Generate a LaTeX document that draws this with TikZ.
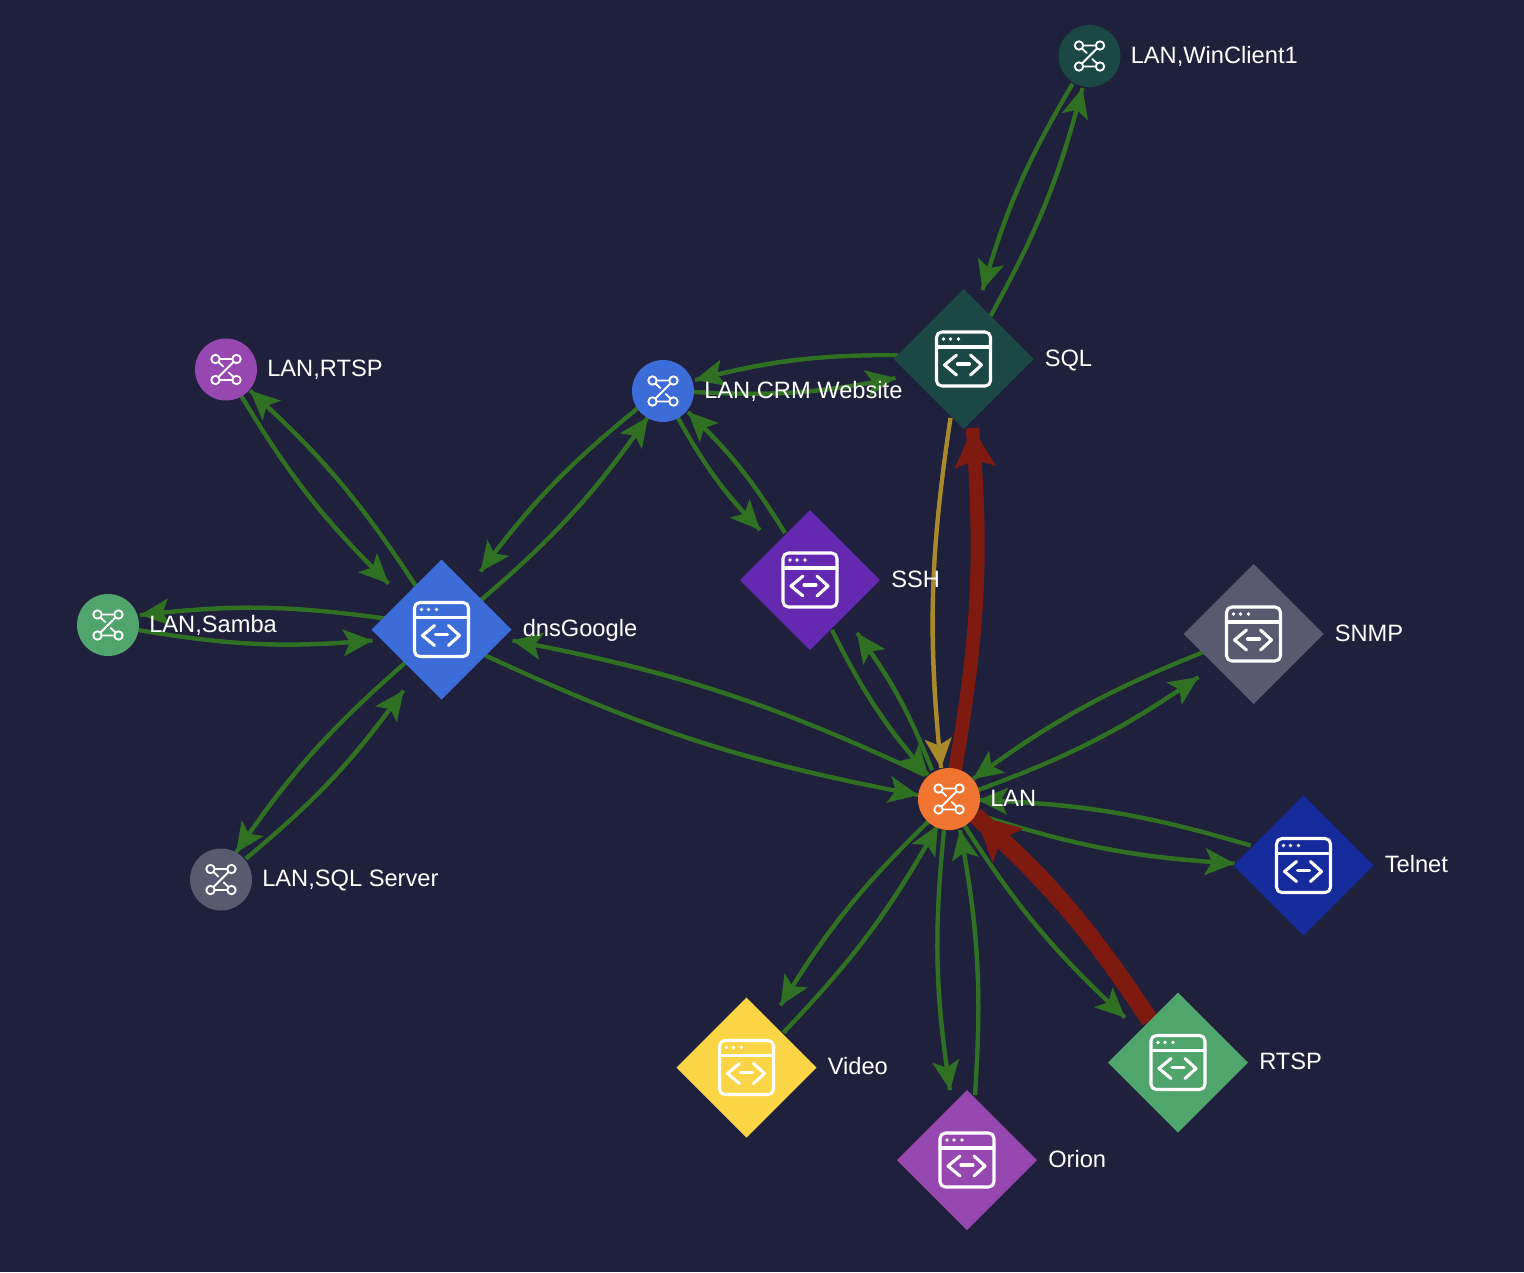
\documentclass[tikz,border=0pt]{standalone}
\usepackage{fontspec}
\setmainfont{Liberation Sans}
\usetikzlibrary{arrows.meta,calc,shapes.geometric}
\pgfdeclarelayer{edges}
\pgfsetlayers{edges,main}
\definecolor{bgc}{HTML}{1F213C}
\definecolor{flowgreen}{HTML}{307023}
\definecolor{flowgold}{HTML}{A88A2A}
\definecolor{flowred}{HTML}{7F1A10}
\definecolor{cteal}{HTML}{1B4745}
\definecolor{cblue}{HTML}{3C6CD8}
\definecolor{cpurple}{HTML}{6528B0}
\definecolor{cgrey}{HTML}{59596F}
\definecolor{cnavy}{HTML}{152A9B}
\definecolor{cgreen}{HTML}{50A56C}
\definecolor{corchid}{HTML}{9747B0}
\definecolor{cyellow}{HTML}{FBD545}
\definecolor{corange}{HTML}{F07530}
\tikzset{
  x=0.75pt,y=-0.75pt,
  hubnode/.style={circle,fill=#1,minimum size=46.5pt,inner sep=0pt,outer sep=0pt},
  appnode/.style={diamond,fill=#1,minimum width=105pt,minimum height=105pt,inner sep=0pt,outer sep=0pt,aspect=1},
  lbl/.style={anchor=base west,text=white,font=\fontsize{17.75pt}{22pt}\selectfont,inner sep=0pt},
  flow/.style={draw=flowgreen,line width=3pt,postaction={draw,-{Stealth[length=22pt,width=20pt,inset=5pt]}}},
  flowy/.style={draw=flowgold,line width=3pt,postaction={draw,-{Stealth[length=22pt,width=20pt,inset=5pt]}}},
  heavy/.style={draw=flowred,line width=10pt,postaction={draw,-{Stealth[length=29pt,width=30pt,inset=5pt]}}},
  heavier/.style={draw=flowred,line width=13pt,postaction={draw,-{Stealth[length=33pt,width=33pt,inset=6pt]}}},
  icon/.style={draw=white,line width=2.3pt,line cap=round,line join=round},
  appicon/.pic={
    \draw[icon,rounded corners=4pt] (-27,-27) rectangle (27,27);
    \draw[icon] (-27,-12) -- (27,-12);
    \fill[white] (-20,-20) circle (1.9) (-13,-20) circle (1.9) (-5,-20) circle (1.9);
    \draw[icon] (-7,-4) -- (-19,6) -- (-7,16);
    \draw[icon] (7,-4) -- (18,6) -- (7,16);
    \draw[icon] (-6,5) -- (6,5);
  },
  hubicon/.pic={
    \draw[icon,line width=1.4pt] (-10.5,-10.5) circle (4.2) (10.5,-10.5) circle (4.2) (-10.5,10.5) circle (4.2) (10.5,10.5) circle (4.2);
    \draw[icon,line width=1.4pt] (-6.3,-10.5) -- (6.3,-10.5) (-6.3,10.5) -- (6.3,10.5)
      (7.5,-7.5) -- (-7.5,7.5) (-7.5,-7.5) -- (-2.8,-3) (7.5,7.5) -- (2.8,3);
  }
}
\newcommand{\hub}[5]{\node[hubnode=#4] (#1) at (#2,#3) {};
  \pic at (#1) {hubicon};
  \node[lbl] (#1t) at (#2+41,#3+7) {#5};}
\newcommand{\app}[5]{\node[appnode=#4] (#1) at (#2,#3) {};
  \pic at (#1) {appicon};
  \node[lbl] (#1t) at (#2+81,#3+7) {#5};}
\newcommand{\conn}[5][flow]{\draw[#1] ($(#2)+(#3)$) to[bend right=7] ($(#4)+(#5)$);}
\begin{document}
\begin{tikzpicture}
\begin{pgfonlayer}{edges}
\fill[bgc] (0,0) rectangle (1524,1272);
\end{pgfonlayer}
\useasboundingbox (0,0) rectangle (1524,1272);
\app{SQL}{963.5}{359}{cteal}{SQL}
\app{dns}{441.5}{629.5}{cblue}{dnsGoogle}
\app{SSH}{810}{580}{cpurple}{SSH}
\app{SNMP}{1253.5}{634}{cgrey}{SNMP}
\app{Tel}{1303.5}{865.5}{cnavy}{Telnet}
\app{RTS}{1178}{1062.5}{cgreen}{RTSP}
\app{Ori}{967}{1160}{corchid}{Orion}
\app{Vid}{746.5}{1067.5}{cyellow}{Video}
\hub{Win}{1089.5}{56}{cteal}{LAN,WinClient1}
\hub{RT}{226}{369.5}{corchid}{LAN,RTSP}
\hub{CRM}{663}{391}{cblue}{LAN,CRM Website}
\hub{Sam}{108}{625}{cgreen}{LAN,Samba}
\hub{SQS}{221}{879.5}{cgrey}{LAN,SQL Server}
\hub{LAN}{949}{799}{corange}{LAN}
\begin{pgfonlayer}{edges}
\conn{Win}{-17,28}{SQL}{19,-69}
\conn{SQL}{27,-43}{Win}{-7,32}
\conn{SQL}{-66,-4}{CRM}{32,-11}
\conn{CRM}{31,1}{SQL}{-68,19}
\conn{CRM}{15,27}{SSH}{-50,-50}
\conn{SSH}{-25,-47}{CRM}{25,21}
\conn{dns}{39,-29}{CRM}{-15,26}
\conn{CRM}{-25,17}{dns}{39,-58}
\conn{dns}{-26,-44}{RT}{24,21}
\conn{RT}{15,26}{dns}{-53,-46}
\conn{dns}{-56,-11}{Sam}{32,-10}
\conn{Sam}{30,5}{dns}{-69,11}
\conn{dns}{-36,33}{SQS}{15,-27}
\conn{SQS}{25,-21}{dns}{-38,61}
\conn{dns}{44,26}{LAN}{-31,-4}
\conn{LAN}{-24,-24}{dns}{71,11}
\conn{SSH}{22,50}{LAN}{-21,-24}
\conn{LAN}{-17,-29}{SSH}{47,53}
\conn{SNMP}{-50,18}{LAN}{24,-20}
\conn{LAN}{29,-9}{SNMP}{-55,43}
\conn{Tel}{-53,-20}{LAN}{29,1}
\conn{LAN}{30,16}{Tel}{-69,-2}
\conn{LAN}{15,26}{RTS}{-53,-45}
\conn[heavier]{RTS}{-28,-42}{LAN}{26,16}
\conn{Ori}{8,-65}{LAN}{11,31}
\conn{LAN}{-5,31}{Ori}{-17,-70}
\conn{Vid}{37,-35}{LAN}{-11,26}
\conn{LAN}{-19,21}{Vid}{34,-62}
\conn[heavy]{LAN}{6,-29}{SQL}{9,69}
\conn[flowy]{SQL}{-13,59}{LAN}{-8,-31}
\end{pgfonlayer}
\end{tikzpicture}
\end{document}
